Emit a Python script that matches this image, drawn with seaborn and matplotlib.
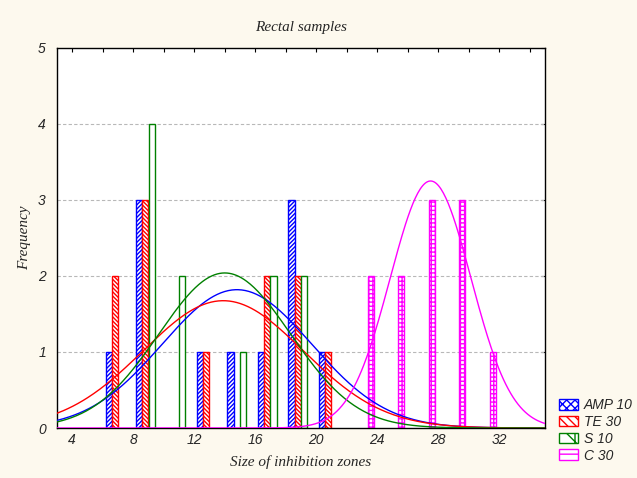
import numpy as np
import pandas as pd
import matplotlib
matplotlib.use("Agg")
import matplotlib.pyplot as plt
import matplotlib.patches as mpatches
import seaborn as sns

# Histogram counts per 2-unit class (class start value)
amp_bins = [6, 8, 12, 14, 16, 18, 20]
amp_freq = [1, 3, 1, 1, 1, 3, 1]
te_bins = [6, 8, 12, 16, 18, 20]
te_freq = [2, 3, 1, 2, 2, 1]
s_bins = [8, 10, 14, 16, 18]
s_freq = [4, 2, 1, 2, 2]
c_bins = [22, 24, 26, 28, 30]
c_freq = [2, 2, 3, 3, 1]

# fitted normal curves: centre, spread, peak height
series_names = ["AMP 10", "TE 30", "S 10", "C 30"]
fit_means = [14.8, 13.9, 14.0, 27.5]
fit_sds = [4.9, 5.25, 4.32, 2.65]
fit_peaks = [1.82, 1.675, 2.04, 3.25]

colors = ["#0000ff", "#ff0000", "#008000", "#ff00ff"]
hatches = ["////////", "\\\\\\\\\\\\\\\\", "", "++++"]
legend_hatches = ["xxxx", "\\\\\\\\", "|\\", "--"]
offsets = [0.38, 0.78, 1.2, 1.57]

sns.set_style("white")
plt.rcParams["hatch.linewidth"] = 1.0

fig = plt.figure(figsize=(6.37, 4.78), dpi=100, facecolor="#fdf9ee")
ax = fig.add_axes([0.0895, 0.1046, 0.766, 0.795])
ax.set_facecolor("white")

all_bins = [amp_bins, te_bins, s_bins, c_bins]
all_freq = [amp_freq, te_freq, s_freq, c_freq]

for i in range(4):
    pos = np.array(all_bins[i]) + offsets[i]
    ax.bar(pos, all_freq[i], width=0.4, facecolor="white",
           edgecolor=colors[i], hatch=hatches[i], linewidth=1.0, zorder=2)

# normal fit curves
xs = np.linspace(3, 35, 400)
curves = []
for i in range(4):
    dens = fit_peaks[i] * np.exp(-0.5 * ((xs - fit_means[i]) / fit_sds[i]) ** 2)
    curves.append(pd.DataFrame({"x": xs, "y": dens, "series": series_names[i]}))
curves = pd.concat(curves)
sns.lineplot(data=curves, x="x", y="y", hue="series", palette=colors,
             linewidth=1.0, legend=False, ax=ax, zorder=3)

ax.set_xticks(np.arange(4, 35, 4))
ax.set_xticks(np.arange(4, 35, 2), minor=True)
ax.set_yticks(range(0, 6))
ax.set_xlim(3, 35)
ax.set_ylim(0, 5)
ax.tick_params(axis="both", which="both", direction="in", top=True, right=True,
               length=3, width=0.8, color="black")
ax.tick_params(axis="both", labelsize=10)
ax.tick_params(axis="y", pad=8)
for lab in ax.get_xticklabels() + ax.get_yticklabels():
    lab.set_fontstyle("italic")
    lab.set_family("Liberation Sans")
for y in range(1, 5):
    ax.axhline(y, color="#b8b8b8", linestyle=(0, (3, 2)), linewidth=0.8, zorder=1)
for sp in ax.spines.values():
    sp.set_color("black")
    sp.set_linewidth(1.0)

ax.set_title("Rectal samples", family="Liberation Serif", style="italic",
             fontsize=11, pad=12)
ax.set_xlabel("Size of inhibition zones", family="Liberation Serif",
              style="italic", fontsize=11, labelpad=6)
ax.set_ylabel("Frequency", family="Liberation Serif", style="italic",
              fontsize=11, labelpad=5)

handles = [mpatches.Patch(facecolor="white", edgecolor=colors[i],
                          hatch=legend_hatches[i], label=series_names[i])
           for i in range(4)]
leg = fig.legend(handles=handles, loc="lower left", bbox_to_anchor=(0.862, 0.012),
                 frameon=False, handlelength=1.4, handleheight=0.8,
                 handletextpad=0.4, labelspacing=0.2, borderpad=0.2,
                 prop={"family": "Liberation Sans", "style": "italic", "size": 10})

fig.savefig("out.png", dpi=100, facecolor=fig.get_facecolor())
